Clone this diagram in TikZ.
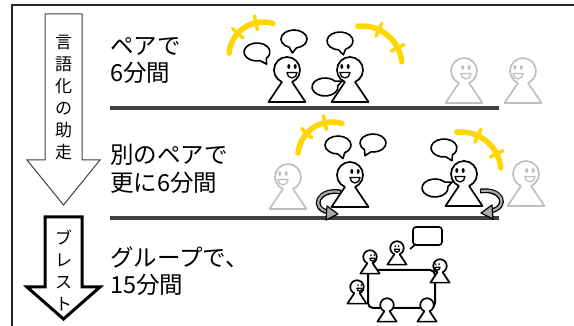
\documentclass[tikz,border=0pt]{standalone}
\usepackage{fontspec}
\newfontfamily\jpfont{Noto Sans CJK JP}
\usetikzlibrary{calc}
\definecolor{pawngray}{RGB}{191,191,191}
\definecolor{hiyellow}{RGB}{255,214,0}
\definecolor{rulegray}{RGB}{64,64,64}
\definecolor{spingray}{RGB}{170,170,170}
\tikzset{
  % pawn-like figure: head circle on a triangular body, face shifted by #2
  pics/pawn/.style 2 args={code={
    \draw[#1, line width=1.7, fill=white, line join=round]
      (-18.5,32) -- (113:13) arc[start angle=113, end angle=427, radius=13] -- (18.5,32) -- cycle;
    \fill[#1] ({#2-3.2},-3.5) ellipse[x radius=1.5, y radius=2.4];
    \fill[#1] ({#2+3.2},-3.5) ellipse[x radius=1.5, y radius=2.4];
    \draw[#1, line width=1.3, line join=round]
      ({#2-5},2.5) -- ({#2+5},2.5) arc[start angle=0, end angle=180, x radius=5, y radius=5.5] -- cycle;
  }},
  % same figure seen from behind
  pics/pawnback/.style={code={
    \draw[#1, line width=1.7, fill=white, line join=round]
      (-18.5,32) -- (113:13) arc[start angle=113, end angle=427, radius=13] -- (18.5,32) -- cycle;
  }},
  % oval speech bubble, tail pointing at angle #1
  pics/bubble/.style={code={
    \draw[line width=1.6, fill=white, line join=round]
      ({#1+16}:13 and 9) arc[start angle={#1+16}, end angle={#1+344}, x radius=13, y radius=9]
      -- (#1:19 and 14) -- cycle;
  }},
  % yellow arc with two cross ticks: start, end, radius, tick1, tick2
  pics/yarc/.style n args={5}{code={
    \draw[hiyellow, line width=5.5, line cap=round] (#1:#3) arc[start angle=#1, end angle=#2, radius=#3];
    \draw[hiyellow, line width=3.5, line cap=round] (#4:{#3-7}) -- (#4:{#3+7});
    \draw[hiyellow, line width=3.5, line cap=round] (#5:{#3-7}) -- (#5:{#3+7});
  }},
  lbl/.style={font=\jpfont\fontsize{23.5}{27}\selectfont, anchor=west, inner sep=0pt},
  vtext/.style={font=\jpfont\fontsize{17}{22}\selectfont, align=center, inner sep=0pt},
  rule/.style={line width=4, rulegray},
  spinband/.style={line width=4.8, black},
  spinfill/.style={line width=2.2, spingray},
  spinhead/.style={line width=1.2, fill=spingray, line join=round},
}
\begin{document}
\begin{tikzpicture}[x=1pt, y=-1pt]
\useasboundingbox (0,0) rectangle (574,326);

% frame
\draw[line width=1.2, black!85] (12,326) -- (12,5) -- (574,5);

% left arrows
\draw[line width=1, black!75, fill=white, line join=miter]
  (45,14) -- (82,14) -- (82,160) -- (100,160) -- (63.5,205) -- (27,160) -- (45,160) -- cycle;
\node[vtext] (warm) at (63.5,98) {言\\語\\化\\の\\助\\走};
\draw[line width=3, black, fill=white, line join=miter]
  (45,217) -- (82,217) -- (82,287) -- (100,287) -- (63.5,319) -- (27,287) -- (45,287) -- cycle;
\node[vtext] (brain) at (63.5,270) {ブ\\レ\\ス\\ト};

% row labels
\node[lbl] (r1a) at (110,46) {ペアで};
\node[lbl] (r1b) at (110,73) {6分間};
\node[lbl] (r2a) at (110,155) {別のペアで};
\node[lbl] (r2b) at (110,183) {更に6分間};
\node[lbl] (r3a) at (110,257) {グループで、};
\node[lbl] (r3b) at (110,285) {15分間};

% dividers
\draw[rule] (110,108) -- (499,108);
\draw[rule] (110,218) -- (499,218);

% row 1: a pair talking
\pic at (263,56) {yarc={185}{287}{34}{222}{258}};
\pic at (362,66) {yarc={264}{354}{40}{295}{333}};
\pic at (287,70) {pawn={black}{5}};
\pic at (350,70) {pawn={black}{-5}};
\pic at (464,71) {pawn={pawngray}{2}};
\pic at (523,71) {pawn={pawngray}{-5}};
\pic at (257,52) {bubble=60};
\pic at (294,39) {bubble=95};
\pic at (340,41) {bubble=80};
\pic at (325,87) {bubble=335};

% row 2: new pairs
\pic at (332,156) {yarc={185}{287}{34}{222}{258}};
\pic at (461,172) {yarc={264}{354}{40}{295}{333}};
\pic at (288,177) {pawn={pawngray}{-5}};
\pic at (350,175) {pawn={black}{5}};
\pic at (464,174) {pawn={black}{-4}};
\pic at (526,174) {pawn={pawngray}{4}};
\pic at (338,145) {bubble=75};
\pic at (373,143) {bubble=115};
\pic at (444,148) {bubble=65};
\pic at (435,188) {bubble=335};

% turning arrows
\draw[spinband] (341,192) .. controls (318,188) and (310,208) .. (328,212);
\draw[spinfill] (340,192) .. controls (318,188) and (310,208) .. (328,212);
\draw[spinhead] (327,206) -- (338,214) -- (326,220) -- cycle;
\draw[spinband] (480,191) .. controls (503,188) and (509,207) .. (491,211);
\draw[spinfill] (481,191) .. controls (503,188) and (509,207) .. (491,211);
\draw[spinhead] (492,205) -- (481,213) -- (493,219) -- cycle;

% row 3: group around a table
\draw[line width=2, rounded corners=5] (368,270) rectangle (435,308);
\pic[scale=.52] at (397,248) {pawn={black}{0}};
\pic[scale=.52] at (370,257) {pawn={black}{5}};
\pic[scale=.52] at (357,287) {pawn={black}{5}};
\pic[scale=.52] at (440,266) {pawn={black}{-5}};
\pic[scale=.52] at (387,305) {pawnback=black};
\pic[scale=.52] at (427,305) {pawnback=black};
\draw[line width=1.6, rounded corners=3, fill=white] (413,227) rectangle (442,245);
\draw[line width=1.6] (416,244) -- (410,249);
\end{tikzpicture}
\end{document}
